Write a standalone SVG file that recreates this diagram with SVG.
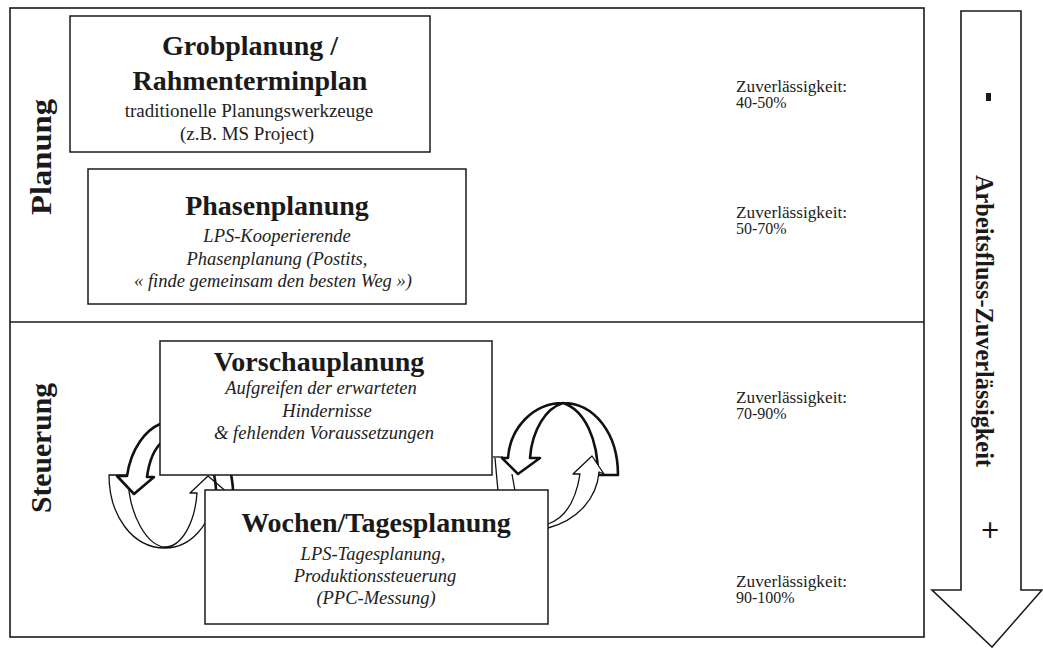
<svg xmlns="http://www.w3.org/2000/svg" width="1043" height="648" viewBox="0 0 1043 648">
  <style>
    .frame { fill: none; stroke: #1a1a1a; stroke-width: 1.6; }
    .scale { fill: #ffffff; stroke: #1a1a1a; stroke-width: 1.6; }
    .box { fill: #ffffff; stroke: #1a1a1a; stroke-width: 1.5; }
    .title { font-family: "Liberation Serif", "Times New Roman", serif; font-weight: bold; font-size: 28px; fill: #1a1a1a; text-anchor: middle; }
    .sub { font-family: "Liberation Serif", "Times New Roman", serif; font-size: 19px; fill: #222222; text-anchor: middle; }
    .subi { font-family: "Liberation Serif", "Times New Roman", serif; font-style: italic; font-size: 18.5px; fill: #222222; text-anchor: middle; }
    .rel { font-family: "Liberation Serif", "Times New Roman", serif; font-size: 16px; fill: #222222; }
    .side { font-family: "Liberation Serif", "Times New Roman", serif; font-weight: bold; font-size: 29px; fill: #1a1a1a; text-anchor: middle; }
    .scaletext { font-family: "Liberation Serif", "Times New Roman", serif; font-weight: bold; font-size: 26px; fill: #1a1a1a; text-anchor: middle; }
    .plus { font-family: "DejaVu Sans", "Liberation Sans", sans-serif; font-size: 24px; fill: #111111; text-anchor: middle; }
    .flow { fill: #ffffff; stroke: #111111; stroke-width: 1.3; stroke-linejoin: round; }
    .flowdark { fill: #ffffff; stroke: #111111; stroke-width: 2.6; stroke-linejoin: round; }
    .stub { fill: none; stroke: #111111; stroke-width: 1.3; }
    .stubdark { fill: none; stroke: #111111; stroke-width: 2.6; }
  </style>

  <!-- outer frame: planning band above, control band below -->
  <g id="frame">
    <rect class="frame" x="10" y="8" width="914" height="629"/>
    <line class="frame" x1="10" y1="322" x2="924" y2="322"/>
  </g>

  <!-- side labels -->
  <g id="label-planung">
    <text class="side" transform="translate(51,157) rotate(-90)" textLength="116" lengthAdjust="spacingAndGlyphs">Planung</text>
  </g>
  <g id="label-steuerung">
    <text class="side" transform="translate(51,448) rotate(-90)" textLength="130" lengthAdjust="spacingAndGlyphs">Steuerung</text>
  </g>

  <!-- cycle arrows between look-ahead and weekly planning -->
  <g id="connectors">
    <!-- left loop, white band rising to the look-ahead box -->
    <path class="flow" d="M109,475 L128,475 C128,515 148,547 165,547 C182,547 195,522 197,493 L190,493 L208,476 L228,493 L214,493 C212,525 190,548 165,548 C132,548 109,515 109,475 Z"/>
    <!-- left loop, heavy arrow coming down from the look-ahead box -->
    <path class="flowdark" d="M170,422 L160,424 C146,430 131,448 127,476 L117,476 L134,494 L154,477 L147,477 C149,462 153,450 162,442 L170,440 Z"/>
    <path class="stubdark" d="M214,474 C215,480 216,485 216,491"/>
    <path class="stubdark" d="M231,474 C232,480 233,485 233,491"/>
    <!-- right loop, heavy arch arrow -->
    <path class="flowdark" d="M598,475 L618,475 C618,433 594,403 563,403 C533,403 510,428 508,458 L502,458 L518,474 L540,458 L530,458 C532,430 546,408 563,403 C585,410 598,440 598,475 Z"/>
    <!-- right loop, white arrow rising from the weekly box -->
    <path class="flow" d="M540,529 L548,528 C578,520 597,498 599,472 L604,474 L592,456 L573,474 L580,474 C576,500 565,518 548,524 L540,525 Z"/>
    <path class="stub" d="M493,457 L503,457"/>
    <path class="stub" d="M495,458 C496,470 497,480 498,491"/>
    <path class="stub" d="M512,474 C513,480 514,485 515,491"/>
  </g>

  <g id="node-grobplanung">
    <rect class="box" x="70" y="16" width="360" height="136"/>
    <text class="title" x="250" y="55">Grobplanung /</text>
    <text class="title" x="250" y="90">Rahmenterminplan</text>
    <text class="sub" x="249" y="117">traditionelle Planungswerkzeuge</text>
    <text class="sub" x="247" y="140">(z.B. MS Project)</text>
  </g>

  <g id="node-phasenplanung">
    <rect class="box" x="88" y="169" width="378" height="135"/>
    <text class="title" x="277" y="215">Phasenplanung</text>
    <text class="subi" x="277" y="242">LPS-Kooperierende</text>
    <text class="subi" x="277" y="265">Phasenplanung (Postits,</text>
    <text class="subi" x="273" y="287">« finde gemeinsam den besten Weg »)</text>
  </g>

  <g id="node-vorschauplanung">
    <rect class="box" x="160" y="341" width="332" height="134"/>
    <text class="title" x="319" y="371">Vorschauplanung</text>
    <text class="subi" x="321" y="394">Aufgreifen der erwarteten</text>
    <text class="subi" x="327" y="417">Hindernisse</text>
    <text class="subi" x="324" y="439">&amp; fehlenden Voraussetzungen</text>
  </g>

  <g id="node-wochenplanung">
    <rect class="box" x="205" y="490" width="343" height="134"/>
    <text class="title" x="376" y="532">Wochen/Tagesplanung</text>
    <text class="subi" x="373" y="560">LPS-Tagesplanung,</text>
    <text class="subi" x="375" y="582">Produktionssteuerung</text>
    <text class="subi" x="376" y="604">(PPC-Messung)</text>
  </g>

  <!-- reliability figures per level -->
  <g id="reliability">
    <text class="rel" x="736" y="92" textLength="111" lengthAdjust="spacingAndGlyphs">Zuverlässigkeit:</text>
    <text class="rel" x="736" y="108">40-50%</text>
    <text class="rel" x="736" y="218" textLength="111" lengthAdjust="spacingAndGlyphs">Zuverlässigkeit:</text>
    <text class="rel" x="736" y="234">50-70%</text>
    <text class="rel" x="736" y="403" textLength="111" lengthAdjust="spacingAndGlyphs">Zuverlässigkeit:</text>
    <text class="rel" x="736" y="419">70-90%</text>
    <text class="rel" x="736" y="587" textLength="111" lengthAdjust="spacingAndGlyphs">Zuverlässigkeit:</text>
    <text class="rel" x="736" y="603">90-100%</text>
  </g>

  <!-- workflow reliability scale arrow -->
  <g id="node-arbeitsfluss">
    <path class="scale" d="M961,11 L1021,11 L1021,590 L1042,590 L992,647 L932,590 L961,590 Z"/>
    <rect x="986" y="93" width="5" height="8" fill="#1a1a1a"/>
    <text class="scaletext" transform="translate(976,321) rotate(90)" textLength="292" lengthAdjust="spacingAndGlyphs">Arbeitsfluss-Zuverlässigkeit</text>
    <text class="plus" x="990" y="538">+</text>
  </g>
</svg>
